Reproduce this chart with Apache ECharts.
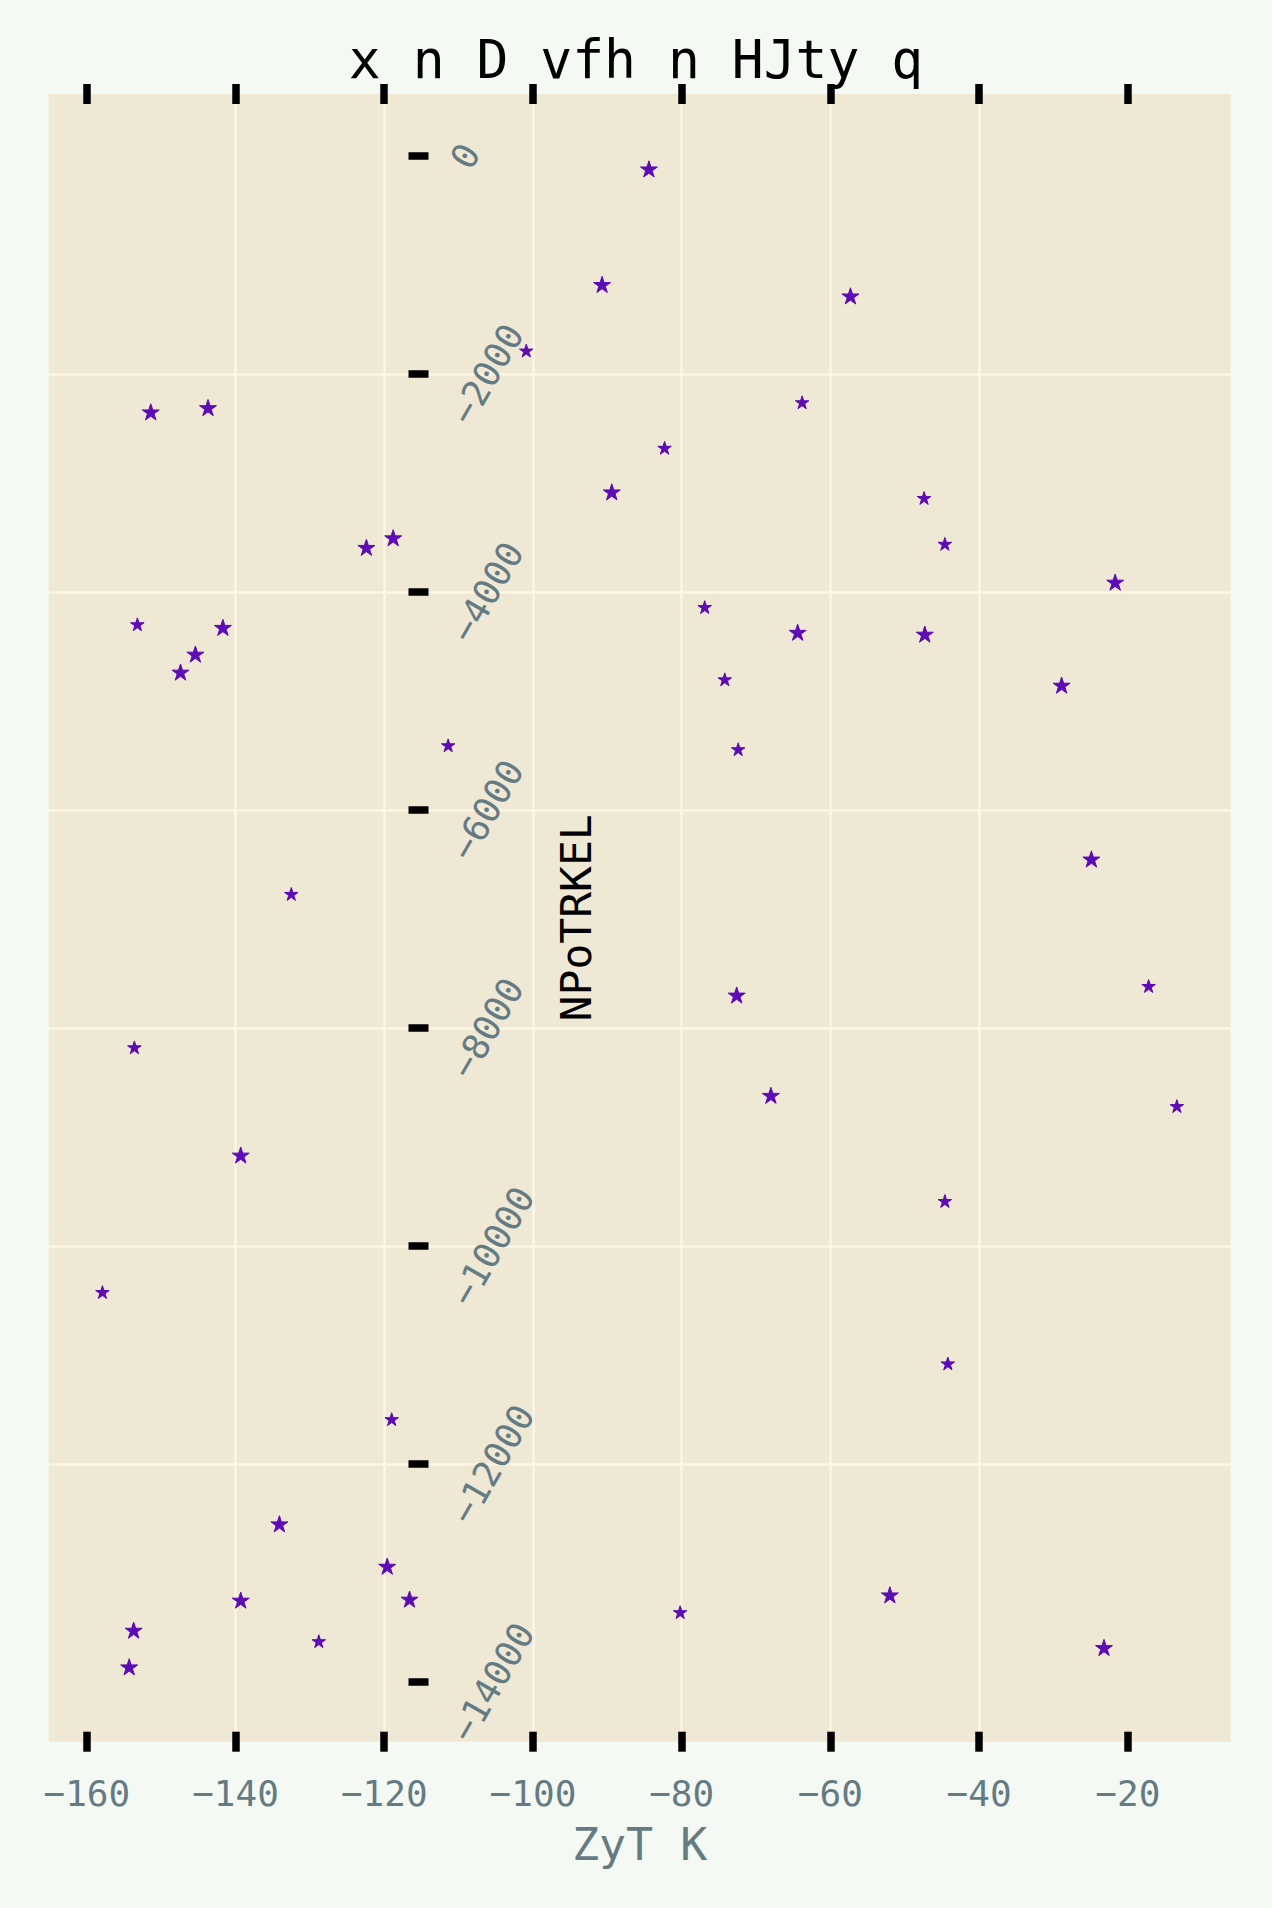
<!DOCTYPE html>
<html>
<head>
<meta charset="utf-8">
<script src="https://cdn.jsdelivr.net/npm/echarts@6/dist/echarts.min.js"></script>
<style>
html,body{margin:0;padding:0;background:#f5f9f4;}
#chart{width:1272px;height:1908px;}
</style>
</head>
<body>
<div id="chart"></div>
<script>
// ---------------- data ----------------
const titleText = 'x n D vfh n HJty q';
const xName = 'ZyT K';
const yName = 'NPoTRKEL';

const xValues = [-84.4, -90.7, -57.3, -100.9, -151.4, -143.7, -63.8, -82.3, -89.4, -47.4,
  -122.4, -118.8, -44.6, -21.7, -76.9, -153.2, -141.7, -64.4, -47.3, -145.4,
  -147.4, -74.2, -28.9, -111.4, -72.4, -132.5, -24.9, -17.2, -72.6, -153.6,
  -68.0, -13.4, -139.3, -44.6, -157.9, -44.2, -119.0, -134.1, -119.6, -116.6,
  -139.3, -52.0, -80.2, -153.7, -128.8, -23.2, -154.3];
const yValues = [-117, -1177, -1282, -1784, -2346, -2307, -2258, -2676, -3080, -3136,
  -3589, -3501, -3557, -3908, -4137, -4295, -4323, -4368, -4385, -4568,
  -4733, -4800, -4853, -5405, -5441, -6769, -6448, -7613, -7696, -8176,
  -8616, -8715, -9164, -9586, -10421, -11076, -11587, -12547, -12936, -13238,
  -13247, -13199, -13358, -13523, -13624, -13682, -13859];
// magnitude class of each point: 2 = large marker, 1 = small marker
const magnitude = [2, 2, 2, 1, 2, 2, 1, 1, 2, 1,
  2, 2, 1, 2, 1, 1, 2, 2, 2, 2,
  2, 1, 2, 1, 1, 1, 2, 1, 2, 1,
  2, 1, 2, 1, 1, 1, 1, 2, 2, 2,
  2, 2, 1, 2, 1, 2, 2];

const xTicks = [-160, -140, -120, -100, -80, -60, -40, -20];
const yTicks = [0, -2000, -4000, -6000, -8000, -10000, -12000, -14000];

// ---------------- styling / layout ----------------
const FONT = "'DejaVu Sans Mono', monospace";
const GREY = '#657b83';
const TICK_FS = 36;
const gridL = 48.7, gridR = 1230.6, gridT = 94, gridB = 1741.7;
const yAxisX = 408.5;      // left end of the y tick marks
const TICK_LEN = 20;       // ticks straddle their spine (10 in / 10 out)

function padExtent(vals) {
  const lo = Math.min(...vals), hi = Math.max(...vals), m = (hi - lo) * 0.05;
  return [lo - m, hi + m];
}
const [xMin, xMax] = padExtent(xValues);
const [yMin, yMax] = padExtent(yValues);

function fmt(v) { return String(v).replace('-', '\u2212'); }

const tickLine = { color: '#000', width: 7.5 };

// rich styles shift rotated y labels so each label's box starts at same x
const charW = 0.602 * TICK_FS;
const yRich = {};
for (let n = 1; n <= 7; n++) {
  const dx = 0.25 * charW * (n - 5);
  const a = dx / 2, b = 0.866 * dx;
  yRich['n' + n] = {
    fontFamily: FONT, fontSize: TICK_FS, color: GREY,
    padding: [Math.max(2 * b, 0), Math.max(-2 * a, 0), Math.max(-2 * b, 0), Math.max(2 * a, 0)]
  };
}

const option = {
  backgroundColor: '#f5f9f4',
  animation: false,
  title: {
    text: titleText, left: 'center', top: 28,
    textStyle: { fontFamily: FONT, fontSize: 53, fontWeight: 'normal', color: '#000' }
  },
  grid: {
    left: gridL, top: gridT, width: gridR - gridL, height: gridB - gridT,
    show: true, backgroundColor: '#eee8d5', borderWidth: 0, containLabel: false,
    outerBoundsMode: 'none'
  },
  xAxis: [
    {
      type: 'value', position: 'bottom', offset: -10, min: xMin, max: xMax,
      axisLine: { show: false, onZero: false },
      axisTick: { show: true, inside: false, length: TICK_LEN, lineStyle: tickLine, customValues: xTicks },
      name: xName, nameLocation: 'middle', nameGap: 113, nameMoveOverlap: false,
      nameTextStyle: { fontFamily: FONT, fontSize: 45, color: GREY, verticalAlign: 'middle', align: 'center' },
      axisLabel: {
        show: true, customValues: xTicks, margin: 61.6, verticalAlign: 'middle',
        fontFamily: FONT, fontSize: TICK_FS, color: GREY, formatter: fmt
      },
      splitLine: { show: true, customValues: xTicks, showMinLine: false, showMaxLine: false,
        lineStyle: { color: '#fdf6e3', width: 2.5 } },
      minorTick: { show: false }
    },
    {
      type: 'value', position: 'top', offset: -10, min: xMin, max: xMax,
      axisLine: { show: false, onZero: false },
      axisTick: { show: true, inside: false, length: TICK_LEN, lineStyle: tickLine, customValues: xTicks },
      axisLabel: { show: false },
      splitLine: { show: false },
      minorTick: { show: false }
    }
  ],
  yAxis: [
    {
      type: 'value', position: 'left', offset: gridL - yAxisX, min: yMin, max: yMax,
      axisLine: { show: false, onZero: false },
      axisTick: { show: true, inside: true, length: TICK_LEN, lineStyle: tickLine, customValues: yTicks },
      axisLabel: {
        show: true, inside: true, customValues: yTicks, rotate: 60, margin: 78.6,
        align: 'center', verticalAlign: 'middle',
        fontFamily: FONT, fontSize: TICK_FS, color: GREY,
        formatter: function (v) { const s = fmt(v); return '{n' + s.length + '|' + s + '}'; },
        rich: yRich
      },
      splitLine: { show: true, customValues: yTicks, showMinLine: false, showMaxLine: false,
        lineStyle: { color: '#fdf6e3', width: 2.5 } },
      name: yName, nameLocation: 'middle', nameRotate: 90, nameGap: yAxisX - 576, nameMoveOverlap: false,
      nameTextStyle: { fontFamily: FONT, fontSize: 43, color: '#000', verticalAlign: 'middle', align: 'center' }
    }
  ],
  series: [{
    type: 'scatter', xAxisIndex: 0, yAxisIndex: 0,
    data: xValues.map((x, i) => [x, yValues[i], magnitude[i]]),
    symbol: 'path://M50,0L61.226,34.549L97.553,34.549L68.164,55.902L79.389,90.451L50,69.098L20.611,90.451L31.836,55.902L2.447,34.549L38.774,34.549Z',
    symbolKeepAspect: true,
    symbolSize: function (d) { return d[2] === 2 ? 17 : 13.5; },
    itemStyle: { color: '#5c0bb5', borderColor: '#5c0bb5', borderWidth: 1, opacity: 1 }
  }]
};

const chart = echarts.init(document.getElementById('chart'), null, { renderer: 'svg', width: 1272, height: 1908 });
chart.setOption(option);
</script>
</body>
</html>
